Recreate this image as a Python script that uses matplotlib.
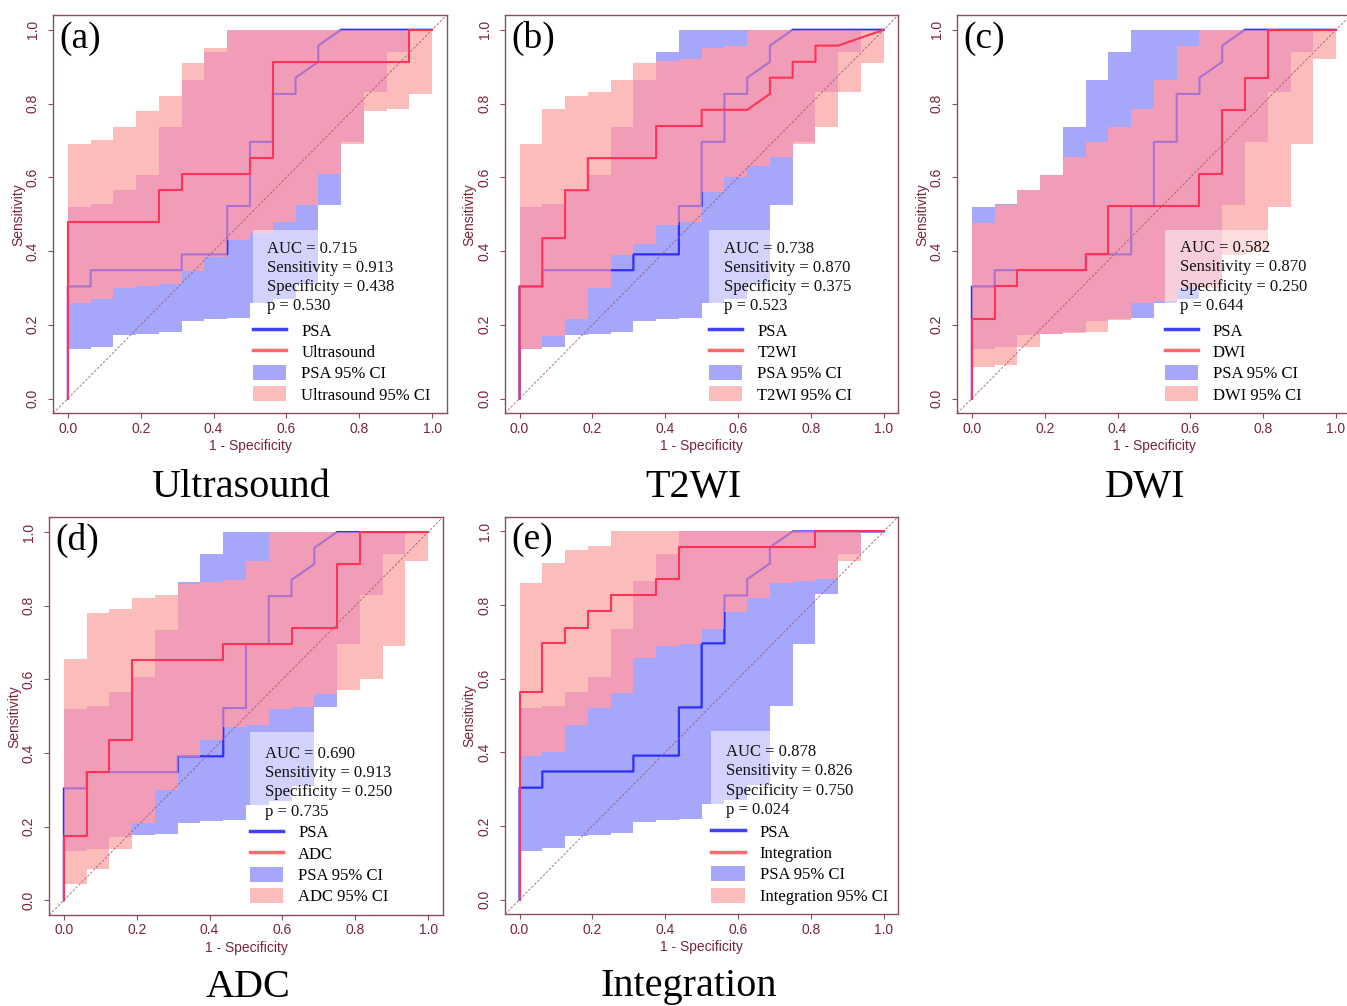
import matplotlib
matplotlib.use("Agg")
import matplotlib.pyplot as plt
from matplotlib.lines import Line2D
from matplotlib.patches import Patch, Rectangle

# === ROC curves: x = 1 - specificity, y = sensitivity ===
psa_fpr = [0, 0, 0.0625, 0.0625, 0.3125, 0.3125, 0.4375, 0.4375, 0.5, 0.5, 0.5625, 0.5625,
           0.625, 0.625, 0.6875, 0.6875, 0.75, 1.0]
psa_tpr = [0, 0.304, 0.304, 0.348, 0.348, 0.391, 0.391, 0.522, 0.522, 0.696, 0.696, 0.826,
           0.826, 0.870, 0.913, 0.957, 1.0, 1.0]

us_fpr = [0, 0, 0.25, 0.25, 0.3125, 0.3125, 0.5, 0.5, 0.5625, 0.5625, 0.9375, 0.9375, 1.0]
us_tpr = [0, 0.478, 0.478, 0.565, 0.565, 0.609, 0.609, 0.652, 0.652, 0.913, 0.913, 1.0, 1.0]

t2_fpr = [0, 0, 0.0625, 0.0625, 0.125, 0.125, 0.1875, 0.1875, 0.375, 0.375, 0.5, 0.5,
          0.625, 0.6875, 0.6875, 0.75, 0.75, 0.8125, 0.8125, 0.875, 1.0]
t2_tpr = [0, 0.304, 0.304, 0.435, 0.435, 0.565, 0.565, 0.652, 0.652, 0.739, 0.739, 0.783,
          0.783, 0.826, 0.870, 0.870, 0.913, 0.913, 0.957, 0.957, 1.0]

dwi_fpr = [0, 0, 0.0625, 0.0625, 0.125, 0.125, 0.3125, 0.3125, 0.375, 0.375, 0.625, 0.625,
           0.6875, 0.6875, 0.75, 0.75, 0.8125, 0.8125, 1.0]
dwi_tpr = [0, 0.217, 0.217, 0.304, 0.304, 0.348, 0.348, 0.391, 0.391, 0.522, 0.522, 0.609,
           0.609, 0.783, 0.783, 0.870, 0.870, 1.0, 1.0]

adc_fpr = [0, 0, 0.0625, 0.0625, 0.125, 0.125, 0.1875, 0.1875, 0.4375, 0.4375, 0.625, 0.625,
           0.75, 0.75, 0.8125, 0.8125, 1.0]
adc_tpr = [0, 0.174, 0.174, 0.348, 0.348, 0.435, 0.435, 0.652, 0.652, 0.696, 0.696, 0.739,
           0.739, 0.913, 0.913, 1.0, 1.0]

int_fpr = [0, 0, 0.0625, 0.0625, 0.125, 0.125, 0.1875, 0.1875, 0.25, 0.25, 0.375, 0.375,
           0.4375, 0.4375, 0.8125, 0.8125, 1.0]
int_tpr = [0, 0.565, 0.565, 0.696, 0.696, 0.739, 0.739, 0.783, 0.783, 0.826, 0.826, 0.870,
           0.870, 0.957, 0.957, 1.0, 1.0]

# === 95% CI of sensitivity, one value per 1/16 step of 1 - specificity ===
ci_fpr = [0, 0.0625, 0.125, 0.1875, 0.25, 0.3125, 0.375, 0.4375, 0.5, 0.5625, 0.625,
          0.6875, 0.75, 0.8125, 0.875, 0.9375, 1.0]

psa_lo = [0.133, 0.14, 0.172, 0.176, 0.18, 0.211, 0.215, 0.219, 0.26, 0.27, 0.31, 0.525,
          0.695, 0.83, 0.94, 1.0]
psa_hi = [0.52, 0.527, 0.565, 0.605, 0.735, 0.865, 0.94, 1.0, 1.0, 1.0, 1.0, 1.0,
          1.0, 1.0, 1.0, 1.0]

us_lo = [0.26, 0.27, 0.30, 0.305, 0.31, 0.345, 0.385, 0.43, 0.45, 0.48, 0.525, 0.61,
         0.69, 0.78, 0.785, 0.825]
us_hi = [0.69, 0.70, 0.735, 0.78, 0.82, 0.91, 0.95, 1.0, 1.0, 1.0, 1.0, 1.0,
         1.0, 1.0, 1.0, 1.0]

t2_lo = [0.133, 0.17, 0.215, 0.30, 0.39, 0.42, 0.47, 0.48, 0.56, 0.60, 0.63, 0.655,
         0.69, 0.735, 0.83, 0.91]
t2_hi = [0.69, 0.785, 0.82, 0.83, 0.865, 0.91, 0.915, 0.92, 0.95, 0.955, 1.0, 1.0,
         1.0, 1.0, 1.0, 1.0]

dwi_lo = [0.085, 0.09, 0.14, 0.175, 0.178, 0.18, 0.213, 0.26, 0.265, 0.30, 0.30, 0.39,
          0.40, 0.52, 0.69, 0.92]
dwi_hi = [0.475, 0.525, 0.565, 0.605, 0.655, 0.695, 0.735, 0.785, 0.865, 0.955, 1.0, 1.0,
          1.0, 1.0, 1.0, 1.0]

adc_lo = [0.045, 0.085, 0.14, 0.21, 0.30, 0.39, 0.435, 0.47, 0.475, 0.52, 0.525, 0.56,
          0.57, 0.60, 0.69, 0.92]
adc_hi = [0.655, 0.78, 0.79, 0.82, 0.83, 0.86, 0.865, 0.87, 0.92, 1.0, 1.0, 1.0,
          1.0, 1.0, 1.0, 1.0]

int_lo = [0.39, 0.40, 0.475, 0.52, 0.56, 0.655, 0.69, 0.695, 0.735, 0.78, 0.82, 0.86,
          0.865, 0.87, 0.92, 1.0]
int_hi = [0.86, 0.915, 0.95, 0.96, 1.0, 1.0, 1.0, 1.0, 1.0, 1.0, 1.0, 1.0,
          1.0, 1.0, 1.0, 1.0]

# === Panel info ===
names = ["Ultrasound", "T2WI", "DWI", "ADC", "Integration"]
tags = ["(a)", "(b)", "(c)", "(d)", "(e)"]
auc_vals = ["0.715", "0.738", "0.582", "0.690", "0.878"]
sens_vals = ["0.913", "0.870", "0.870", "0.913", "0.826"]
spec_vals = ["0.438", "0.375", "0.250", "0.250", "0.750"]
p_vals = ["0.530", "0.523", "0.644", "0.735", "0.024"]

curves = [(us_fpr, us_tpr), (t2_fpr, t2_tpr), (dwi_fpr, dwi_tpr), (adc_fpr, adc_tpr), (int_fpr, int_tpr)]
bands = [(us_lo, us_hi), (t2_lo, t2_hi), (dwi_lo, dwi_hi), (adc_lo, adc_hi), (int_lo, int_hi)]

# === Layout (pixels in a 1347x1006 image: left, top, width, height) ===
W, H = 1347, 1006
boxes_px = [(53.3, 15, 393.4, 398.3), (505, 15, 393.3, 398.3), (957.3, 15, 393.3, 398.3),
            (49.3, 517.3, 393.4, 397.7), (505, 516.7, 393.3, 397.6)]
txt_x = [0.547, 0.562, 0.571, 0.552, 0.568]
txt_y = [0.396, 0.396, 0.397, 0.387, 0.390]
leg_x = [0.508, 0.519, 0.527, 0.510, 0.525]
title_x = [0.477, 0.48, 0.478, 0.505, 0.468]
title_y = [-0.21, -0.21, -0.21, -0.205, -0.205]

blue = "#2e2eff"
red = "#ff3355"
blue_fill = "#a6a6fb"
pink_fill = (251 / 255, 166 / 255, 166 / 255)
overlap_tint = (1.0, 150 / 255, 180 / 255)
maroon = "#7a2535"
frame = "#8b4c5c"
serif = "Liberation Serif"
sans = "Liberation Sans"


def stepped(vals):
    # repeat the last value so the final 1/16 step reaches x = 1
    return vals + vals[-1:]


fig = plt.figure(figsize=(W / 100, H / 100), dpi=100)

for i in range(5):
    l, t, w, h = boxes_px[i]
    ax = fig.add_axes([l / W, 1 - (t + h) / H, w / W, h / H])
    ax.set_xlim(-0.04, 1.04)
    ax.set_ylim(-0.04, 1.04)

    fpr, tpr = curves[i]
    lo, hi = bands[i]
    ov_lo = [max(a, b) for a, b in zip(psa_lo, lo)]
    ov_hi = [max(min(a, b), c) for a, b, c in zip(psa_hi, hi, ov_lo)]

    # PSA band + line, then the modality band over it
    ax.fill_between(ci_fpr, stepped(psa_lo), stepped(psa_hi), step="post",
                    color=blue_fill, lw=0, zorder=1)
    ax.plot(psa_fpr, psa_tpr, color=blue, lw=1.5, zorder=2)
    ax.fill_between(ci_fpr, stepped(lo), stepped(hi), step="post",
                    color=pink_fill, alpha=0.75, lw=0, zorder=3)
    ax.fill_between(ci_fpr, stepped(ov_lo), stepped(ov_hi), step="post",
                    color=overlap_tint, alpha=0.5, lw=0, zorder=3.5)
    ax.plot(psa_fpr, psa_tpr, color=blue, lw=1.5, alpha=0.3, zorder=3.6)

    # light box behind the stats text
    bx = -0.04 + leg_x[i] * 1.08
    ax.add_patch(Rectangle((bx, 0.20), 0.29, 0.258, facecolor="white", alpha=0.5,
                           lw=0, zorder=4))

    ax.plot(fpr, tpr, color=red, lw=1.5, zorder=5)
    ax.axline((0, 0), (1, 1), color="#9a6070", lw=0.6, ls=(0, (3, 2)), zorder=6)

    # stats text
    lines = ["AUC = " + auc_vals[i], "Sensitivity = " + sens_vals[i],
             "Specificity = " + spec_vals[i], "p = " + p_vals[i]]
    for k, s in enumerate(lines):
        ax.annotate(s, xy=(txt_x[i], txt_y[i]), xytext=(0, -13.9 * k),
                    textcoords="offset points", va="baseline", ha="left",
                    fontsize=12, family=serif, color="#111111", zorder=8)

    handles = [Line2D([], [], color="#4040ff", lw=2.5),
               Line2D([], [], color="#ff6b6b", lw=2.5),
               Patch(facecolor=blue_fill, lw=0),
               Patch(facecolor="#fcbcbc", lw=0)]
    labels = ["PSA", names[i], "PSA 95% CI", names[i] + " 95% CI"]
    leg = ax.legend(handles, labels, loc="upper left", bbox_to_anchor=(leg_x[i], 0.228),
                    frameon=False, borderpad=0, borderaxespad=0, handlelength=2.0,
                    handleheight=1.0, handletextpad=0.9, labelspacing=0.25,
                    prop={"family": serif, "size": 12})
    leg.set_zorder(8)

    ax.text(0.015, 0.985, tags[i], transform=ax.transAxes, ha="left", va="top",
            fontsize=27, family=serif, zorder=9)
    ax.text(title_x[i], title_y[i], names[i], transform=ax.transAxes, ha="center",
            va="baseline", fontsize=29, family=serif)

    # axes styling
    ticks = [0.0, 0.2, 0.4, 0.6, 0.8, 1.0]
    ax.set_xticks(ticks)
    ax.set_yticks(ticks)
    ax.set_xticklabels(["%.1f" % v for v in ticks], family=sans)
    ax.set_yticklabels(["%.1f" % v for v in ticks], family=sans, rotation=90, va="center")
    ax.tick_params(axis="both", direction="out", length=3.6, width=0.8, color=frame,
                   labelcolor=maroon, labelsize=10)
    ax.tick_params(axis="x", pad=2.5)
    ax.tick_params(axis="y", pad=6)
    for sp in ax.spines.values():
        sp.set_color(frame)
        sp.set_linewidth(1.0)
    ax.set_xlabel("1 - Specificity", family=sans, fontsize=10, color=maroon)
    ax.set_ylabel("Sensitivity", family=sans, fontsize=10, color=maroon)
    ax.xaxis.set_label_coords(0.5, -0.065)
    ax.yaxis.set_label_coords(-0.072, 0.5)

fig.savefig("out.png", dpi=100)
